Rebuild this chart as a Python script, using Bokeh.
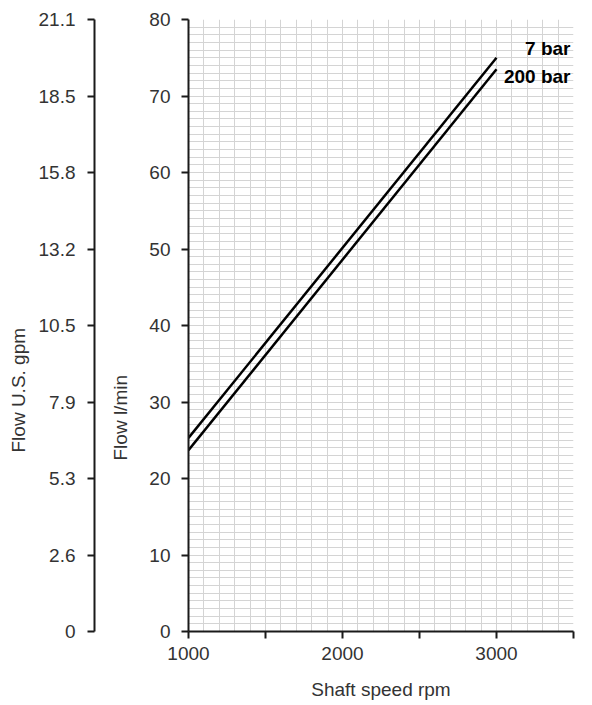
from bokeh.plotting import figure
from bokeh.models import Range1d, LinearAxis, FixedTicker, SingleIntervalTicker, Label, Title
from bokeh.embed import file_html
from bokeh.resources import INLINE

# ---- data ----
rpm = [1000, 3000]
flow_7bar = [25.3, 75.0]
flow_200bar = [23.7, 73.5]
series_names = ["7 bar", "200 bar"]

x_ticks = [1000, 1500, 2000, 2500, 3000, 3500]
x_tick_labels = ["1000", "", "2000", "", "3000", ""]
lpm_ticks = [0, 10, 20, 30, 40, 50, 60, 70, 80]
lpm_tick_labels = ["0", "10", "20", "30", "40", "50", "60", "70", "80"]
gpm_tick_labels = ["0", "2.6", "5.3", "7.9", "10.5", "13.2", "15.8", "18.5", "21.1"]

x_title = "Shaft speed rpm"
lpm_title = "Flow l/min"
gpm_title = "Flow U.S. gpm"

FONT = "Liberation Sans"
FS = "19px"
TXT = "#333333"

p = figure(frame_width=385, frame_height=612,
           x_range=Range1d(1000, 3500), y_range=Range1d(0, 80),
           output_backend="svg", toolbar_location=None,
           min_border_left=188, min_border_right=15,
           min_border_top=19, min_border_bottom=70)
p.outline_line_color = None
p.background_fill_color = "white"
p.border_fill_color = "white"

# grid
p.xgrid.ticker = SingleIntervalTicker(interval=100)
p.ygrid.ticker = SingleIntervalTicker(interval=1)
for g in (p.xgrid[0], p.ygrid[0]):
    g.grid_line_color = "#d4d4d4"
    g.grid_line_width = 1


def style_axis(ax, standoff):
    ax.axis_line_color = "#1a1a1a"
    ax.axis_line_width = 2
    ax.major_tick_line_color = "#1a1a1a"
    ax.major_tick_line_width = 2
    ax.major_tick_out = 7
    ax.major_tick_in = 0
    ax.minor_tick_out = 0
    ax.minor_tick_in = 0
    ax.major_label_text_font = FONT
    ax.major_label_text_font_size = FS
    ax.major_label_text_color = TXT
    ax.major_label_standoff = standoff


def side_title(text, align, offset, standoff, valign="middle"):
    return Title(text=text, align=align, offset=offset, standoff=standoff,
                 vertical_align=valign, text_font=FONT, text_font_size=FS,
                 text_font_style="normal", text_color=TXT)


# x axis
xa = p.xaxis[0]
xa.ticker = FixedTicker(ticks=x_ticks)
xa.major_label_overrides = {t: l for t, l in zip(x_ticks, x_tick_labels)}
style_axis(xa, 8)
xa.axis_label = x_title
xa.axis_label_text_font = FONT
xa.axis_label_text_font_size = FS
xa.axis_label_text_font_style = "normal"
xa.axis_label_text_color = TXT
xa.axis_label_standoff = 16

# inner y axis (l/min)
ya = p.yaxis[0]
ya.ticker = FixedTicker(ticks=lpm_ticks)
ya.major_label_overrides = {t: l for t, l in zip(lpm_ticks, lpm_tick_labels)}
style_axis(ya, 11)

# l/min title between the two axes
p.add_layout(side_title(lpm_title, "left", 171, 29), "left")

# outer y axis (gpm) on the same scale
ga = LinearAxis(ticker=FixedTicker(ticks=lpm_ticks))
ga.major_label_overrides = {t: l for t, l in zip(lpm_ticks, gpm_tick_labels)}
style_axis(ga, 12)
p.add_layout(ga, "left")

# gpm title outermost
p.add_layout(side_title(gpm_title, "left", 179, 12), "left")

# series
p.line(rpm, flow_7bar, line_width=2.5, line_color="black")
p.line(rpm, flow_200bar, line_width=2.5, line_color="black")

# series labels
p.add_layout(Label(x=382, y=583.5, x_units="screen", y_units="screen", text=series_names[0],
                   text_align="right", text_baseline="middle", text_font=FONT,
                   text_font_size=FS, text_font_style="bold", text_color="black"))
p.add_layout(Label(x=382, y=555.5, x_units="screen", y_units="screen", text=series_names[1],
                   text_align="right", text_baseline="middle", text_font=FONT,
                   text_font_size=FS, text_font_style="bold", text_color="black"))

open("out.html", "w").write(file_html(p, INLINE))
